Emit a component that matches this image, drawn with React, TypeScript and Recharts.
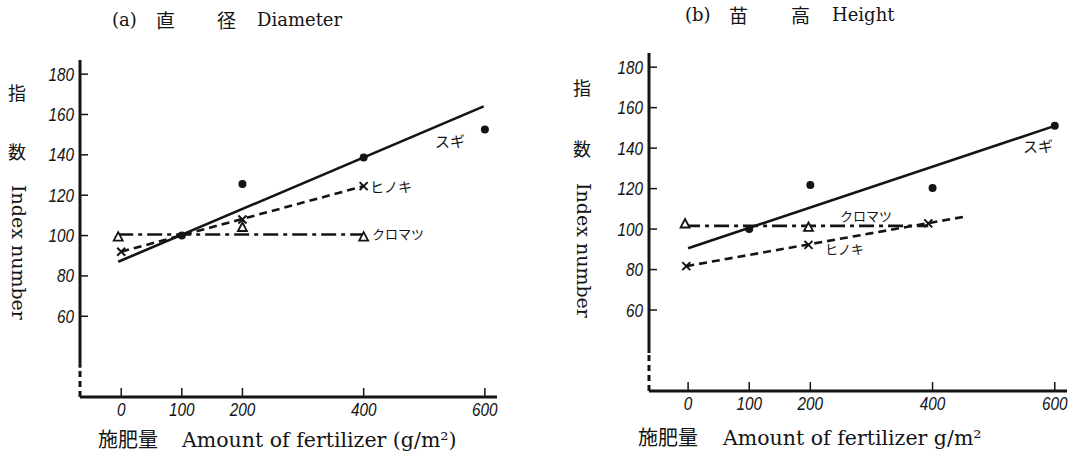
import React from 'react';
import { ComposedChart, Line, Scatter, XAxis, YAxis, ReferenceLine } from 'recharts';

const xTicks = [0, 100, 200, 400, 600];
const yTicks = [60, 80, 100, 120, 140, 160, 180];

// (a) 直径 Diameter - observed points and fitted lines
const sugiDiaPts = [
  { x: 100, y: 100 },
  { x: 200, y: 125.5 },
  { x: 400, y: 138.7 },
  { x: 600, y: 152.5 },
];
const sugiDiaFit = [
  { x: -5, y: 87 },
  { x: 598, y: 164 },
];
const hinokiDiaPts = [
  { x: 0, y: 92 },
  { x: 200, y: 108 },
  { x: 400, y: 124.5 },
];
const hinokiDiaFit = [
  { x: 0, y: 92 },
  { x: 400, y: 124.5 },
];
const kuroDiaPts = [
  { x: -5, y: 99.2 },
  { x: 200, y: 104 },
  { x: 400, y: 99.2 },
];
const kuroDiaFit = [
  { x: -5, y: 100.5 },
  { x: 400, y: 100.5 },
];

// (b) 苗高 Height
const sugiHtPts = [
  { x: 100, y: 100 },
  { x: 200, y: 121.8 },
  { x: 400, y: 120.3 },
  { x: 600, y: 151 },
];
const sugiHtFit = [
  { x: 0, y: 90.5 },
  { x: 600, y: 151 },
];
const hinokiHtPts = [
  { x: -3, y: 81.7 },
  { x: 197, y: 92.2 },
  { x: 393, y: 102.8 },
];
const hinokiHtFit = [
  { x: -3, y: 81.7 },
  { x: 450, y: 106 },
];
const kuroHtPts = [
  { x: -5, y: 102.5 },
  { x: 197, y: 100.8 },
];
const kuroHtFit = [
  { x: -5, y: 101.6 },
  { x: 393, y: 101.6 },
];

// y axis: dashed part near the origin, then solid up to the top
const axisBreakDia = [20, 34.5, 187];
const axisBreakHt = [20, 38.8, 187];

const INK = '#141414';
const tickFontFamily = "'Liberation Sans', sans-serif";

// italic, slightly condensed tick numbers like the hand-lettered ones
const YTick = (p: any) => (
  <text
    x={p.x}
    y={p.y}
    dy="0.36em"
    textAnchor="end"
    transform={`translate(${p.x},0) scale(0.85,1) translate(${-p.x},0)`}
    fontFamily={tickFontFamily}
    fontStyle="italic"
    fontSize={18}
    fill={INK}
  >
    {p.payload.value}
  </text>
);

const XTick = (p: any) => (
  <text
    x={p.x}
    y={p.y}
    dy="0.71em"
    textAnchor="middle"
    transform={`translate(${p.x},0) scale(0.85,1) translate(${-p.x},0)`}
    fontFamily={tickFontFamily}
    fontStyle="italic"
    fontSize={18}
    fill={INK}
  >
    {p.payload.value}
  </text>
);

const DotMark = (p: any) => <circle cx={p.cx} cy={p.cy} r={4} fill={INK} />;

const CrossMark = (p: any) => {
  const s = 4;
  return (
    <g stroke={INK} strokeWidth={2}>
      <line x1={p.cx - s} y1={p.cy - s} x2={p.cx + s} y2={p.cy + s} />
      <line x1={p.cx - s} y1={p.cy + s} x2={p.cx + s} y2={p.cy - s} />
    </g>
  );
};

const TriMark = (p: any) => {
  const { cx, cy } = p;
  return (
    <path
      d={`M${cx},${cy - 5} L${cx + 4.5},${cy + 3.5} L${cx - 4.5},${cy + 3.5} Z`}
      fill="#fff"
      stroke={INK}
      strokeWidth={1.8}
    />
  );
};

interface PanelProps {
  left: number;
  width: number;
  margin: { top: number; right: number; bottom: number; left: number };
  xMin: number;
  axisBreak: number[];
  sugiPts: any[];
  sugiFit: any[];
  hinokiPts: any[];
  hinokiFit: any[];
  kuroPts: any[];
  kuroFit: any[];
}

const Panel: React.FC<PanelProps> = (p) => (
  <div style={{ position: 'absolute', left: p.left, top: 0 }}>
    <ComposedChart width={p.width} height={456} margin={p.margin}>
      <XAxis
        type="number"
        dataKey="x"
        domain={[p.xMin, 620]}
        allowDataOverflow
        ticks={xTicks}
        height={1}
        tick={XTick}
        tickSize={-9}
        tickMargin={15}
        tickLine={{ stroke: INK, strokeWidth: 1.5 }}
        axisLine={{ stroke: INK, strokeWidth: 3 }}
      />
      <YAxis
        type="number"
        domain={[20, 187]}
        allowDataOverflow
        ticks={yTicks}
        width={1}
        tick={YTick}
        tickSize={-8}
        tickMargin={14}
        tickLine={{ stroke: INK, strokeWidth: 1.5 }}
        axisLine={false}
      />
      <ReferenceLine
        segment={[{ x: p.xMin, y: p.axisBreak[1] }, { x: p.xMin, y: p.axisBreak[2] }]}
        stroke={INK}
        strokeWidth={3}
        ifOverflow="visible"
      />
      <ReferenceLine
        segment={[{ x: p.xMin, y: p.axisBreak[0] }, { x: p.xMin, y: p.axisBreak[1] }]}
        stroke={INK}
        strokeWidth={3}
        strokeDasharray="6 4"
        ifOverflow="visible"
      />
      <Line data={p.sugiFit} dataKey="y" type="linear" stroke={INK} strokeWidth={2.6} dot={false} activeDot={false} isAnimationActive={false} />
      <Line data={p.hinokiFit} dataKey="y" type="linear" stroke={INK} strokeWidth={2.6} strokeDasharray="8 5" dot={false} activeDot={false} isAnimationActive={false} />
      <Line data={p.kuroFit} dataKey="y" type="linear" stroke={INK} strokeWidth={2.6} strokeDasharray="15 5 4 5" dot={false} activeDot={false} isAnimationActive={false} />
      <Scatter data={p.sugiPts} dataKey="y" shape={DotMark} isAnimationActive={false} />
      <Scatter data={p.hinokiPts} dataKey="y" shape={CrossMark} isAnimationActive={false} />
      <Scatter data={p.kuroPts} dataKey="y" shape={TriMark} isAnimationActive={false} />
    </ComposedChart>
  </div>
);

const serif = "'DejaVu Serif', 'Noto Sans CJK JP', serif";
const kana = "'Noto Sans CJK JP', sans-serif";

const T: React.FC<{ x: number; cy: number; size: number; font?: string; children: React.ReactNode }> = ({ x, cy, size, font, children }) => (
  <span
    style={{
      position: 'absolute',
      left: x,
      top: cy - size / 2,
      fontSize: size,
      lineHeight: 1,
      fontFamily: font || serif,
      color: INK,
      whiteSpace: 'nowrap',
    }}
  >
    {children}
  </span>
);

const VText: React.FC<{ cx: number; top: number; size: number; children: React.ReactNode }> = ({ cx, top, size, children }) => (
  <span
    style={{
      position: 'absolute',
      left: cx - size / 2,
      top,
      fontSize: size,
      lineHeight: 1,
      fontFamily: serif,
      color: INK,
      writingMode: 'vertical-rl',
      whiteSpace: 'nowrap',
    }}
  >
    {children}
  </span>
);

export default function App() {
  return (
    <div style={{ position: 'absolute', left: 0, top: 0, width: 1075, height: 456, background: '#fff', overflow: 'hidden' }}>
      <Panel
        left={0}
        width={540}
        margin={{ top: 60, right: 43, bottom: 58, left: 79 }}
        xMin={-68}
        axisBreak={axisBreakDia}
        sugiPts={sugiDiaPts}
        sugiFit={sugiDiaFit}
        hinokiPts={hinokiDiaPts}
        hinokiFit={hinokiDiaFit}
        kuroPts={kuroDiaPts}
        kuroFit={kuroDiaFit}
      />
      <Panel
        left={540}
        width={535}
        margin={{ top: 53, right: 8, bottom: 64, left: 108 }}
        xMin={-64}
        axisBreak={axisBreakHt}
        sugiPts={sugiHtPts}
        sugiFit={sugiHtFit}
        hinokiPts={hinokiHtPts}
        hinokiFit={hinokiHtFit}
        kuroPts={kuroHtPts}
        kuroFit={kuroHtFit}
      />

      {/* titles */}
      <T x={112} cy={20} size={18}>(a)</T>
      <T x={156} cy={21} size={19}>直</T>
      <T x={217} cy={21} size={19}>径</T>
      <T x={257} cy={20} size={18}>Diameter</T>
      <T x={685} cy={15} size={18}>(b)</T>
      <T x={729} cy={16} size={19}>苗</T>
      <T x={791} cy={16} size={19}>高</T>
      <T x={832} cy={15} size={18}>Height</T>

      {/* y axis titles */}
      <T x={8} cy={94} size={18}>指</T>
      <T x={8} cy={153} size={18}>数</T>
      <VText cx={18} top={185} size={19}>Index number</VText>
      <T x={573} cy={89} size={18}>指</T>
      <T x={573} cy={150} size={18}>数</T>
      <VText cx={583} top={183} size={19}>Index number</VText>

      {/* x axis titles */}
      <T x={98} cy={440} size={20}>施肥量</T>
      <T x={182} cy={440} size={20.5}>Amount of fertilizer (g/m²)</T>
      <T x={638} cy={438} size={20}>施肥量</T>
      <T x={723} cy={438} size={20.5}>Amount of fertilizer g/m²</T>

      {/* series labels */}
      <T x={435} cy={140} size={15} font={kana}>スギ</T>
      <T x={370} cy={186} size={14} font={kana}>ヒノキ</T>
      <T x={372} cy={233} size={13} font={kana}>クロマツ</T>
      <T x={1023} cy={145} size={15} font={kana}>スギ</T>
      <T x={840} cy={215} size={13} font={kana}>クロマツ</T>
      <T x={825} cy={248} size={13} font={kana}>ヒノキ</T>
    </div>
  );
}
